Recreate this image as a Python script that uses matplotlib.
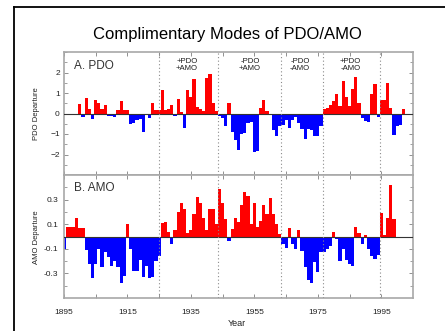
import numpy as np
import matplotlib
matplotlib.use("Agg")
import matplotlib.pyplot as plt
from matplotlib.lines import Line2D
from matplotlib.ticker import MultipleLocator, FixedLocator, FuncFormatter
import matplotlib.transforms as mtransforms

# Annual PDO index departures, 1900-2002
pdo_years = np.arange(1900, 2003)
pdo_values = [
    0.45, -0.15, 0.75, 0.2, -0.25, 0.65, 0.5, 0.2, 0.4, -0.1,
    -0.1, -0.15, 0.15, 0.6, 0.15, 0.15, -0.5, -0.45, -0.3, -0.25,
    -0.9, -0.05, -0.2, 0.5, 0.15, 0.15, 1.15, 0.15, 0.2, 0.4,
    -0.1, 0.7, 0.05, -0.7, 1.15, 0.8, 1.7, 0.3, 0.2, 0.1,
    1.75, 1.95, 0.5, 0.1, -0.1, -0.2, -0.6, 0.5, -0.9, -1.3,
    -1.8, -1.0, -0.95, -0.45, -0.4, -1.9, -1.85, 0.25, 0.65, 0.1,
    -0.05, -0.8, -1.1, -0.6, -0.55, -0.3, -0.7, -0.3, -0.15, -0.45,
    -0.75, -1.25, -0.75, -0.8, -1.1, -1.1, -0.6, 0.2, 0.25, 0.4,
    0.6, 0.95, 0.35, 1.6, 0.8, 0.35, 1.2, 1.8, 0.5, -0.2,
    -0.35, -0.4, 0.95, 1.45, -0.15, 0.65, 0.65, 1.5, 0.25, -1.05,
    -0.6, -0.55, 0.2,
]

# Annual AMO index departures, 1895-1999
amo_years = np.arange(1895, 2000)
amo_values = [
    -0.1, 0.075, 0.075, 0.075, 0.15, 0.07, 0.07, -0.11, -0.22, -0.34,
    -0.22, -0.1, -0.25, -0.13, -0.17, -0.24, -0.2, -0.25, -0.38, -0.32,
    0.1, -0.1, -0.28, -0.28, -0.19, -0.33, -0.24, -0.34, -0.33, -0.2,
    -0.16, 0.11, 0.12, 0.04, -0.06, 0.05, 0.2, 0.27, 0.22, 0.03,
    0.05, 0.18, 0.32, 0.27, 0.15, 0.05, 0.22, 0.22, 0.1, 0.39,
    0.27, 0.14, -0.04, 0.06, 0.15, 0.12, 0.26, 0.36, 0.33, 0.1,
    0.27, 0.08, 0.13, 0.26, 0.18, 0.31, 0.18, 0.1, 0.02, -0.06,
    -0.09, 0.07, -0.06, -0.1, 0.05, -0.12, -0.25, -0.35, -0.38, -0.21,
    -0.29, -0.13, -0.13, -0.1, -0.08, 0.04, -0.02, -0.2, -0.1, -0.19,
    -0.22, -0.24, 0.08, 0.03, -0.06, 0.01, -0.1, -0.16, -0.18, -0.15,
    0.19, 0.01, 0.15, 0.42, 0.14,
]

# Regime shift years and the phase labels between them
shift_years = [1925, 1943.5, 1963.5, 1976.5, 1994.5]
phase_x = [1933.7, 1953.6, 1969.4, 1985.3]
phase_labels = ["+PDO\n+AMO", "-PDO\n+AMO", "-PDO\n-AMO", "+PDO\n-AMO"]

# Year ticks every decade, labelled every twenty years
year_ticks = list(range(1895, 2005, 10))
year_labels = [str(y) if (y - 1895) % 20 == 0 else "" for y in year_ticks]

plt.rcParams['font.family'] = ['Liberation Sans', 'DejaVu Sans']

W, H = 445, 331
fig = plt.figure(figsize=(W / 100, H / 100), dpi=100)
fig.patch.set_facecolor('white')

ax1 = fig.add_axes([64 / W, 1 - 175 / H, 349 / W, 123 / H])
ax2 = fig.add_axes([64 / W, 1 - 298 / H, 349 / W, 123 / H])


def bar_colors(vals):
    return ['#ff0000' if v >= 0 else '#0000ff' for v in vals]


def style_axes(ax):
    for s in ax.spines.values():
        s.set_color('#a8a8a8')
        s.set_linewidth(1.2)
    ax.set_xlim(1895, 2005)
    ax.set_xticks(year_ticks)
    ax.tick_params(which='both', direction='in', top=True, right=True,
                   color='#909090', labelcolor='#222222', labelsize=6)
    ax.tick_params(which='major', length=3, width=0.7)
    ax.tick_params(which='minor', length=2, width=0.6)
    ax.axhline(0, color='#333333', lw=0.8, zorder=3)
    for x in shift_years:
        ax.axvline(x, color='#8a8a8a', lw=0.8, ls=(0, (1, 2.2)), zorder=4)


# ----------- A. PDO -----------
ax1.bar(pdo_years, pdo_values, width=1.0, color=bar_colors(pdo_values),
        linewidth=0, zorder=2)
style_axes(ax1)
ax1.set_ylim(-3, 3)
ax1.yaxis.set_major_locator(FixedLocator([-2, -1, 0, 1, 2]))
ax1.yaxis.set_minor_locator(MultipleLocator(0.5))
ax1.tick_params(axis='x', labelbottom=False)
ax1.tick_params(axis='y', pad=3)
ax1.text(0.03, 0.885, "A. PDO", transform=ax1.transAxes, fontsize=8.5,
         color='#333333', va='center', ha='left')
trans = mtransforms.blended_transform_factory(ax1.transData, ax1.transAxes)
for x, lab in zip(phase_x, phase_labels):
    ax1.text(x, 0.895, lab, transform=trans, fontsize=5.6, ha='center',
             va='center', linespacing=0.95, color='#1a1a1a')

# ----------- B. AMO -----------
ax2.bar(amo_years, amo_values, width=1.0, color=bar_colors(amo_values),
        linewidth=0, zorder=2)
style_axes(ax2)
ax2.set_xticklabels(year_labels)
ax2.set_ylim(-0.5, 0.5)
ax2.yaxis.set_major_locator(FixedLocator([-0.3, -0.1, 0.1, 0.3]))
ax2.yaxis.set_minor_locator(FixedLocator([-0.4, -0.2, 0.0, 0.2, 0.4]))
ax2.yaxis.set_major_formatter(FuncFormatter(lambda v, p: f"{v:.1f}"))
ax2.tick_params(axis='x', pad=8)
ax2.tick_params(axis='y', pad=4)
ax2.text(0.03, 0.894, "B. AMO", transform=ax2.transAxes, fontsize=8.5,
         color='#333333', va='center', ha='left')

# axis titles
fig.text(37 / W, 1 - 113.5 / H, "PDO Departure", rotation=90, fontsize=5.5,
         ha='center', va='center', color='#222222')
fig.text(37 / W, 1 - 237 / H, "AMO Departure", rotation=90, fontsize=5.5,
         ha='center', va='center', color='#222222')
fig.text(237 / W, 1 - 324 / H, "Year", fontsize=6.5, ha='center',
         va='center', color='#222222')

# title
fig.text(227 / W, 1 - 35 / H, "Complimentary Modes of PDO/AMO", fontsize=12,
         ha='center', va='center', color='black')

# outer frame (left and top edges)
fig.add_artist(Line2D([14 / W, 14 / W], [0, 1 - 7 / H], transform=fig.transFigure,
                      color='black', lw=1.3))
fig.add_artist(Line2D([14 / W, 1], [1 - 7 / H, 1 - 7 / H], transform=fig.transFigure,
                      color='black', lw=1.3))

fig.savefig("out.png", dpi=100)
